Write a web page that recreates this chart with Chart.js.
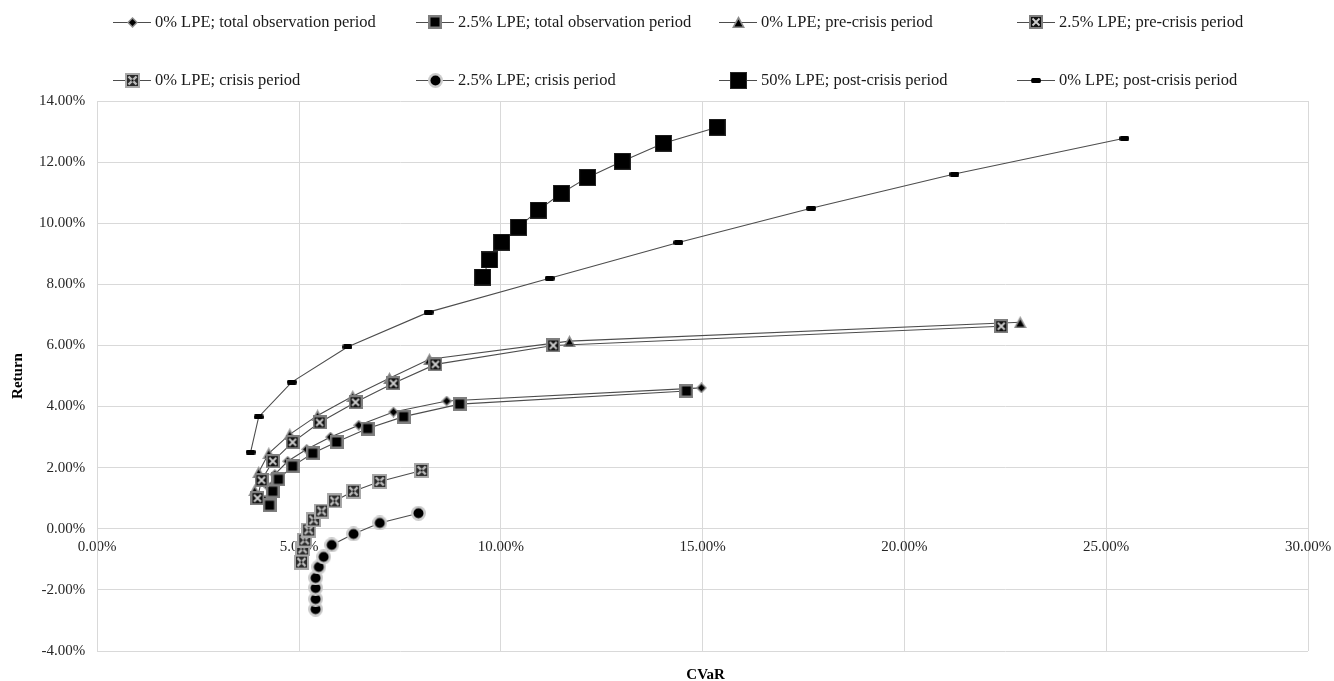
<!DOCTYPE html>
<html>
<head>
<meta charset="utf-8">
<script src="https://cdn.jsdelivr.net/npm/chart.js@4/dist/chart.umd.min.js"></script>
<style>
  html, body { margin: 0; padding: 0; background: #ffffff; }
  #wrap { width: 1334px; height: 681px; }
</style>
</head>
<body>
<div id="wrap"><canvas id="chart" width="1334" height="681"></canvas></div>
<script>
// Efficient frontiers: return (%) against CVaR (%), by LPE share and period.
const seriesLabels = [
  '0% LPE; total observation period',
  '2.5% LPE; total observation period',
  '0% LPE; pre-crisis period',
  '2.5% LPE; pre-crisis period',
  '0% LPE; crisis period',
  '2.5% LPE; crisis period',
  '50% LPE; post-crisis period',
  '0% LPE; post-crisis period'
];

const cvarTotal0  = [4.15, 4.25, 4.40, 4.72, 5.19, 5.78, 6.48, 7.34, 8.66, 14.97];
const retTotal0   = [0.94, 1.36, 1.78, 2.21, 2.60, 3.00, 3.39, 3.82, 4.18, 4.61];
const cvarTotal25 = [4.27, 4.35, 4.49, 4.84, 5.34, 5.93, 6.70, 7.59, 8.98, 14.60];
const retTotal25  = [0.77, 1.23, 1.62, 2.05, 2.47, 2.84, 3.28, 3.67, 4.08, 4.51];
const cvarPre0    = [3.90, 4.00, 4.25, 4.77, 5.46, 6.33, 7.24, 8.23, 11.70, 22.87];
const retPre0     = [1.26, 1.85, 2.47, 3.09, 3.71, 4.34, 4.93, 5.55, 6.14, 6.76];
const cvarPre25   = [3.97, 4.07, 4.35, 4.84, 5.51, 6.40, 7.34, 8.38, 11.30, 22.40];
const retPre25    = [1.00, 1.59, 2.21, 2.83, 3.48, 4.14, 4.76, 5.38, 6.00, 6.63];
const cvarCrisis0 = [5.06, 5.09, 5.14, 5.24, 5.36, 5.56, 5.88, 6.35, 7.00, 8.04];
const retCrisis0  = [-1.09, -0.66, -0.37, -0.04, 0.29, 0.58, 0.91, 1.23, 1.55, 1.91];
const cvarCrisis25 = [5.41, 5.41, 5.41, 5.41, 5.49, 5.61, 5.81, 6.35, 7.00, 7.96];
const retCrisis25  = [-2.63, -2.30, -1.94, -1.61, -1.25, -0.92, -0.53, -0.17, 0.19, 0.51];
const cvarPost50  = [9.55, 9.72, 10.02, 10.44, 10.93, 11.50, 12.15, 13.01, 14.03, 15.36];
const retPost50   = [8.24, 8.80, 9.38, 9.87, 10.43, 10.98, 11.50, 12.03, 12.62, 13.14];
const cvarPost0   = [3.80, 4.00, 4.82, 6.20, 8.21, 11.21, 14.40, 17.69, 21.24, 25.45];
const retPost0    = [2.51, 3.66, 4.80, 5.95, 7.09, 8.20, 9.37, 10.49, 11.61, 12.78];

const xTicks = [0, 5, 10, 15, 20, 25, 30];
const yTicks = [-4, -2, 0, 2, 4, 6, 8, 10, 12, 14];

const SERIF = "'Liberation Serif', 'Times New Roman', 'DejaVu Serif', serif";

// ---- marker bitmaps -------------------------------------------------------
function makeMarker(w, h, paint) {
  const c = document.createElement('canvas');
  c.width = w; c.height = h;
  paint(c.getContext('2d'), w, h);
  return c;
}

const markerDiamond = makeMarker(11, 11, (g) => {
  g.fillStyle = '#8a8a8a';
  g.beginPath(); g.moveTo(5.5, 0); g.lineTo(11, 5.5); g.lineTo(5.5, 11); g.lineTo(0, 5.5); g.closePath(); g.fill();
  g.fillStyle = '#000000';
  g.beginPath(); g.moveTo(5.5, 2); g.lineTo(9, 5.5); g.lineTo(5.5, 9); g.lineTo(2, 5.5); g.closePath(); g.fill();
});

const markerSquare = makeMarker(14, 14, (g) => {
  g.fillStyle = '#7f7f7f'; g.fillRect(0, 0, 14, 14);
  g.fillStyle = '#000000'; g.fillRect(2.5, 2.5, 9, 9);
});

const markerTriangle = makeMarker(13, 12, (g) => {
  g.fillStyle = '#8a8a8a';
  g.beginPath(); g.moveTo(6.5, 0); g.lineTo(13, 12); g.lineTo(0, 12); g.closePath(); g.fill();
  g.fillStyle = '#000000';
  g.beginPath(); g.moveTo(6.5, 3.5); g.lineTo(10.5, 10.5); g.lineTo(2.5, 10.5); g.closePath(); g.fill();
});

const markerXBoxDark = makeMarker(14, 14, (g) => {
  g.fillStyle = '#7f7f7f'; g.fillRect(0, 0, 14, 14);
  g.fillStyle = '#111111'; g.fillRect(2, 2, 10, 10);
  g.strokeStyle = '#cfcfcf'; g.lineWidth = 1.8;
  g.beginPath(); g.moveTo(3.5, 3.5); g.lineTo(10.5, 10.5); g.moveTo(10.5, 3.5); g.lineTo(3.5, 10.5); g.stroke();
});

const markerXBoxLight = makeMarker(15, 15, (g) => {
  g.fillStyle = '#a8a8a8'; g.fillRect(0, 0, 15, 15);
  g.fillStyle = '#2a2a2a'; g.fillRect(2, 2, 11, 11);
  g.strokeStyle = '#bdbdbd'; g.lineWidth = 2.4;
  g.beginPath(); g.moveTo(3.5, 3.5); g.lineTo(11.5, 11.5); g.moveTo(11.5, 3.5); g.lineTo(3.5, 11.5); g.stroke();
  g.fillStyle = '#000000';
  g.fillRect(6.5, 6.5, 2, 2);
});

const markerCircle = makeMarker(15, 15, (g) => {
  g.fillStyle = '#cccccc';
  g.beginPath(); g.arc(7.5, 7.5, 7.5, 0, Math.PI * 2); g.fill();
  g.fillStyle = '#000000';
  g.beginPath(); g.arc(7.5, 7.5, 5, 0, Math.PI * 2); g.fill();
});

const markerBigSquare = makeMarker(17, 17, (g) => {
  g.fillStyle = '#262626'; g.fillRect(0, 0, 17, 17);
  g.fillStyle = '#000000'; g.fillRect(1, 1, 15, 15);
});

const markerDash = makeMarker(10, 5, (g) => {
  g.fillStyle = '#000000';
  g.beginPath();
  g.moveTo(1.5, 0); g.lineTo(8.5, 0); g.quadraticCurveTo(10, 0, 10, 2.5); g.quadraticCurveTo(10, 5, 8.5, 5);
  g.lineTo(1.5, 5); g.quadraticCurveTo(0, 5, 0, 2.5); g.quadraticCurveTo(0, 0, 1.5, 0);
  g.fill();
});

const markers = [markerDiamond, markerSquare, markerTriangle, markerXBoxDark,
                 markerXBoxLight, markerCircle, markerBigSquare, markerDash];

const cvarSeries = [cvarTotal0, cvarTotal25, cvarPre0, cvarPre25, cvarCrisis0, cvarCrisis25, cvarPost50, cvarPost0];
const retSeries  = [retTotal0, retTotal25, retPre0, retPre25, retCrisis0, retCrisis25, retPost50, retPost0];

const datasets = seriesLabels.map((label, i) => ({
  label: label,
  data: cvarSeries[i].map((x, k) => ({ x: x, y: retSeries[i][k] })),
  showLine: true,
  borderColor: '#4d4d4d',
  borderWidth: 1.1,
  pointStyle: markers[i],
  pointRadius: 5,
  pointHoverRadius: 5,
  tension: 0,
  fill: false,
  order: seriesLabels.length - i
}));

// ---- legend and horizontal axis title -------------------------------------
const legendCols = [113, 416, 719, 1017];
const legendRows = [22, 80];

const overlayPlugin = {
  id: 'overlay',
  afterDraw(chart) {
    const g = chart.ctx;
    g.save();
    chart.data.datasets.forEach((ds, i) => {
      const x = legendCols[i % 4];
      const y = legendRows[Math.floor(i / 4)];
      g.strokeStyle = '#4d4d4d';
      g.lineWidth = 1.2;
      g.beginPath(); g.moveTo(x, y + 0.5); g.lineTo(x + 38, y + 0.5); g.stroke();
      const m = ds.pointStyle;
      g.drawImage(m, Math.round(x + 19 - m.width / 2), Math.round(y - m.height / 2));
      g.fillStyle = '#1a1a1a';
      g.font = '16.5px ' + SERIF;
      g.textAlign = 'left';
      g.textBaseline = 'middle';
      g.fillText(ds.label, x + 42, y + 1);
    });
    const area = chart.chartArea;
    g.fillStyle = '#000000';
    g.font = 'bold 15px ' + SERIF;
    g.textAlign = 'center';
    g.textBaseline = 'middle';
    g.fillText('CVaR', (area.left + area.right) / 2 + 3, 675);
    g.restore();
  }
};

const pct = (v) => Number(v).toFixed(2) + '%';

new Chart(document.getElementById('chart'), {
  type: 'scatter',
  data: { datasets: datasets },
  options: {
    responsive: false,
    animation: false,
    events: [],
    layout: { padding: { left: 6, right: 26, top: 101, bottom: 30 } },
    plugins: {
      legend: { display: false },
      tooltip: { enabled: false },
      title: { display: false }
    },
    scales: {
      x: {
        type: 'linear',
        position: { y: 0 },
        min: xTicks[0],
        max: xTicks[xTicks.length - 1],
        afterBuildTicks: (s) => { s.ticks = xTicks.map(v => ({ value: v })); },
        afterFit: (s) => {
          // the axis sits on the zero line, so its labels need no outer margin
          s.paddingLeft = 0; s.paddingRight = 0; s.paddingTop = 0; s.paddingBottom = 0;
        },
        ticks: {
          callback: pct,
          color: '#262626',
          font: { family: SERIF, size: 15 },
          padding: 9,
          maxRotation: 0
        },
        grid: { color: '#d9d9d9', lineWidth: 1, drawTicks: false },
        border: { display: true, color: '#d9d9d9' },
        title: { display: false }
      },
      y: {
        type: 'linear',
        position: 'left',
        min: yTicks[0],
        max: yTicks[yTicks.length - 1],
        afterBuildTicks: (s) => { s.ticks = yTicks.map(v => ({ value: v })); },
        ticks: {
          callback: pct,
          color: '#262626',
          font: { family: SERIF, size: 15 },
          padding: 12
        },
        grid: { color: '#d9d9d9', lineWidth: 1, drawTicks: false },
        border: { display: true, color: '#d9d9d9' },
        title: {
          display: true,
          text: 'Return',
          color: '#000000',
          font: { family: SERIF, size: 15, weight: 'bold' },
          padding: { top: 3, bottom: 0 }
        }
      }
    }
  },
  plugins: [overlayPlugin]
});
</script>
</body>
</html>
